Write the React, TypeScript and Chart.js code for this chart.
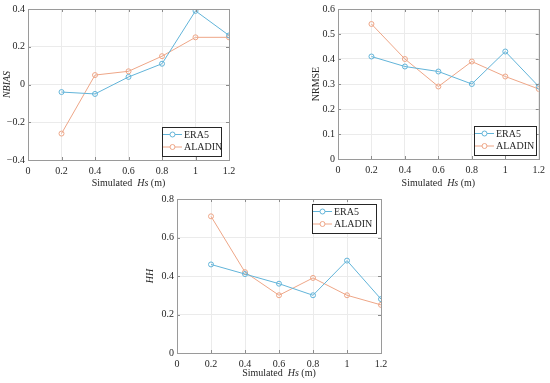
import React, { useEffect, useRef } from 'react';
import { Chart, registerables } from 'chart.js';
Chart.register(...registerables);

const xValues = [0.2, 0.4, 0.6, 0.8, 1.0, 1.2];
const seriesNames = ['ERA5', 'ALADIN'];
const nbiasEra5 = [-0.04, -0.05, 0.04, 0.11, 0.39, 0.26];
const nbiasAladin = [-0.26, 0.05, 0.07, 0.15, 0.25, 0.25];
const nrmseEra5 = [0.41, 0.37, 0.35, 0.3, 0.43, 0.29];
const nrmseAladin = [0.54, 0.4, 0.29, 0.39, 0.33, 0.28];
const hhEra5 = [0.46, 0.41, 0.36, 0.3, 0.48, 0.28];
const hhAladin = [0.71, 0.42, 0.3, 0.39, 0.3, 0.25];
const xTicks = [0, 0.2, 0.4, 0.6, 0.8, 1, 1.2];
const nbiasTicks = [-0.4, -0.2, 0, 0.2, 0.4];
const nrmseTicks = [0, 0.1, 0.2, 0.3, 0.4, 0.5, 0.6];
const hhTicks = [0, 0.2, 0.4, 0.6, 0.8];
const xTitleParts = [
  { text: 'Simulated  ', italic: false },
  { text: 'Hs', italic: true },
  { text: ' (m)', italic: false },
];

const FONT = '"Liberation Serif", "Times New Roman", serif';
const FS = 10;
const TEXT = '#262626';
const COLORS = ['#62b4d9', '#eea687'];

const fmt = (v: number) => {
  const r = Number(v.toFixed(2));
  if (r === 0) return '0';
  return r < 0 ? '\u2212' + String(Math.abs(r)) : String(r);
};

type Cfg = {
  canvas: { x: number; y: number; w: number; h: number };
  area: { l: number; t: number; r: number; b: number };
  yTicks: number[];
  yTitle: string;
  yItalic: boolean;
  yTitlePad: number;
  era5: number[];
  aladin: number[];
  legend: { x: number; y: number; w: number; h: number };
  xTitleY: number;
};

const charts: Cfg[] = [
  {
    canvas: { x: 0, y: 0, w: 250, h: 195 },
    area: { l: 28, t: 8, r: 229, b: 160 },
    yTicks: nbiasTicks,
    yTitle: 'NBIAS',
    yItalic: true,
    yTitlePad: 1,
    era5: nbiasEra5,
    aladin: nbiasAladin,
    legend: { x: 162, y: 127, w: 59, h: 29 },
    xTitleY: 183,
  },
  {
    canvas: { x: 290, y: 0, w: 260, h: 195 },
    area: { l: 338, t: 7, r: 542, b: 159 },
    yTicks: nrmseTicks,
    yTitle: 'NRMSE',
    yItalic: false,
    yTitlePad: 20,
    era5: nrmseEra5,
    aladin: nrmseAladin,
    legend: { x: 474, y: 126, w: 62, h: 29 },
    xTitleY: 183,
  },
  {
    canvas: { x: 130, y: 190, w: 270, h: 193 },
    area: { l: 177, t: 199, r: 381, b: 353 },
    yTicks: hhTicks,
    yTitle: 'HH',
    yItalic: true,
    yTitlePad: 14,
    era5: hhEra5,
    aladin: hhAladin,
    legend: { x: 312, y: 204, w: 64, h: 29 },
    xTitleY: 373,
  },
];

const px = (v: number) => Math.round(v) + 0.5;

function makeDecor(cfg: Cfg) {
  return {
    id: 'decor',
    afterDraw(chart: any) {
      const { ctx, chartArea: a, scales } = chart;
      const ox = cfg.canvas.x;
      const oy = cfg.canvas.y;
      ctx.save();
      // inward ticks
      ctx.strokeStyle = '#8c8c8c';
      ctx.lineWidth = 1;
      ctx.beginPath();
      xTicks.forEach((v) => {
        const x = px(scales.x.getPixelForValue(v));
        ctx.moveTo(x, a.bottom);
        ctx.lineTo(x, a.bottom - 3);
        ctx.moveTo(x, a.top);
        ctx.lineTo(x, a.top + 3);
      });
      cfg.yTicks.forEach((v) => {
        const y = px(scales.y.getPixelForValue(v));
        ctx.moveTo(a.left, y);
        ctx.lineTo(a.left + 3, y);
        ctx.moveTo(a.right, y);
        ctx.lineTo(a.right - 3, y);
      });
      ctx.stroke();
      // box
      ctx.strokeStyle = '#9a9a9a';
      ctx.strokeRect(px(a.left), px(a.top), Math.round(a.right) - Math.round(a.left), Math.round(a.bottom) - Math.round(a.top));
      // legend
      const L = cfg.legend;
      const lx = L.x - ox;
      const ly = L.y - oy;
      ctx.fillStyle = '#ffffff';
      ctx.fillRect(lx, ly, L.w, L.h);
      ctx.strokeStyle = '#262626';
      ctx.strokeRect(px(lx), px(ly), L.w, L.h);
      ctx.font = `${FS}px ${FONT}`;
      ctx.textBaseline = 'middle';
      ctx.textAlign = 'left';
      seriesNames.forEach((name, i) => {
        const ry = ly + 7.5 + i * 12.5;
        ctx.strokeStyle = COLORS[i];
        ctx.beginPath();
        ctx.moveTo(lx + 1, ry);
        ctx.lineTo(lx + 20, ry);
        ctx.stroke();
        ctx.beginPath();
        ctx.arc(lx + 10.5, ry, 2.5, 0, Math.PI * 2);
        ctx.fillStyle = '#ffffff';
        ctx.fill();
        ctx.stroke();
        ctx.fillStyle = TEXT;
        ctx.fillText(name, lx + 22, ry + 0.5);
      });
      // x title with italic part
      const fonts = xTitleParts.map((p) => `${p.italic ? 'italic ' : ''}${FS}px ${FONT}`);
      let total = 0;
      const widths = xTitleParts.map((p, i) => {
        ctx.font = fonts[i];
        const w = ctx.measureText(p.text).width;
        total += w;
        return w;
      });
      let x = (a.left + a.right) / 2 - total / 2;
      const ty = cfg.xTitleY - oy;
      ctx.fillStyle = TEXT;
      xTitleParts.forEach((p, i) => {
        ctx.font = fonts[i];
        ctx.fillText(p.text, x, ty);
        x += widths[i];
      });
      ctx.restore();
    },
  };
}

function Panel({ cfg }: { cfg: Cfg }) {
  const ref = useRef<HTMLCanvasElement>(null);
  useEffect(() => {
    if (!ref.current) return;
    const c = cfg.canvas;
    const yWidth = cfg.area.l - c.x;
    const xHeight = c.y + c.h - cfg.area.b;
    const yMin = cfg.yTicks[0];
    const yMax = cfg.yTicks[cfg.yTicks.length - 1];
    const chart = new Chart(ref.current, {
      type: 'line',
      data: {
        datasets: [cfg.era5, cfg.aladin].map((vals, i) => ({
          label: seriesNames[i],
          data: xValues.map((x, j) => ({ x, y: vals[j] })),
          borderColor: COLORS[i],
          backgroundColor: '#ffffff',
          borderWidth: 1,
          pointRadius: 2.5,
          pointBorderWidth: 1,
          pointBackgroundColor: 'rgba(255,255,255,0)',
          pointBorderColor: COLORS[i],
          tension: 0,
        })),
      },
      options: {
        responsive: false,
        animation: false,
        events: [],
        layout: {
          padding: {
            left: 0,
            bottom: 0,
            top: cfg.area.t - c.y,
            right: c.x + c.w - cfg.area.r,
          },
        },
        plugins: { legend: { display: false }, tooltip: { enabled: false } },
        scales: {
          x: {
            type: 'linear',
            min: 0,
            max: 1.2,
            afterBuildTicks: (s: any) => {
              s.ticks = xTicks.map((v) => ({ value: v }));
            },
            afterFit: (s: any) => {
              s.height = xHeight;
            },
            grid: { color: '#ebebeb', drawTicks: false },
            border: { display: false },
            ticks: {
              padding: 5,
              color: TEXT,
              font: { family: FONT, size: FS },
              maxRotation: 0,
              autoSkip: false,
              callback: (v: any) => fmt(Number(v)),
            },
          },
          y: {
            type: 'linear',
            min: yMin,
            max: yMax,
            afterBuildTicks: (s: any) => {
              s.ticks = cfg.yTicks.map((v) => ({ value: v }));
            },
            afterFit: (s: any) => {
              s.width = yWidth;
            },
            grid: { color: '#ebebeb', drawTicks: false },
            border: { display: false },
            ticks: {
              padding: 3,
              color: TEXT,
              font: { family: FONT, size: FS },
              autoSkip: false,
              callback: (v: any) => fmt(Number(v)),
            },
            title: {
              display: true,
              text: cfg.yTitle,
              color: TEXT,
              font: { family: FONT, size: FS, style: cfg.yItalic ? 'italic' : 'normal' },
              padding: { top: cfg.yTitlePad, bottom: 0 },
            },
          },
        },
      },
      plugins: [makeDecor(cfg)],
    });
    return () => chart.destroy();
  }, [cfg]);
  const c = cfg.canvas;
  return (
    <div style={{ position: 'absolute', left: c.x, top: c.y, width: c.w, height: c.h }}>
      <canvas ref={ref} width={c.w} height={c.h} style={{ display: 'block', width: c.w, height: c.h }} />
    </div>
  );
}

export default function App() {
  return (
    <div style={{ position: 'absolute', left: 0, top: 0, width: 550, height: 383, background: '#ffffff', overflow: 'hidden' }}>
      {charts.map((cfg, i) => (
        <Panel key={i} cfg={cfg} />
      ))}
    </div>
  );
}
